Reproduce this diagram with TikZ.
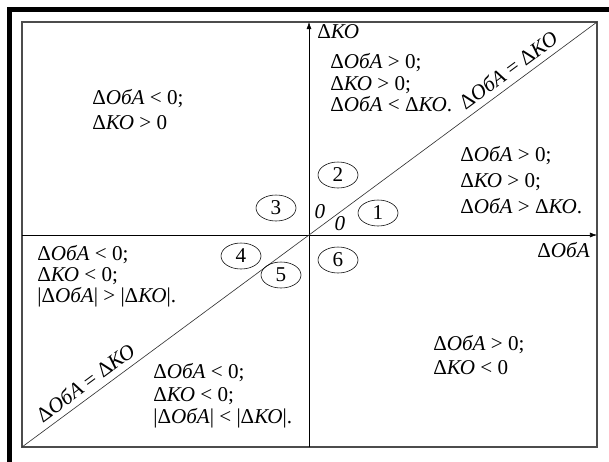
\documentclass[tikz,border=0pt]{standalone}
\usepackage{fontspec}
\setmainfont{Liberation Serif}
\usetikzlibrary{arrows.meta, shapes.geometric}
\newcommand{\dOA}{Δ\textit{ОбА}}
\newcommand{\dKO}{Δ\textit{КО}}
\tikzset{
	zonetext/.style={
			font=\fontsize{15}{#1}\selectfont,
			align=left,
			anchor=west,
			inner sep=0pt
		},
	zonetext/.default=15.5pt,
	zonenum/.style={
			ellipse,
			draw=black,
			thin,
			font=\fontsize{15}{16}\selectfont,
			minimum width=1.0cm,
			minimum height=0.65cm,
			inner sep=0pt
		},
	zeromark/.style={
			font=\fontsize{15}{16}\selectfont\itshape,
			inner sep=0pt
		},
	diaglabel/.style={
			sloped,
			above=1pt,
			font=\fontsize{15}{16}\selectfont
		},
	axisline/.style={
			thin,
			draw=black,
			-{Latex[length=5pt,width=3.5pt]}
		}
}
\begin{document}
\begin{tikzpicture}[x=0.025cm, y=-0.025cm]
\useasboundingbox (0,0) rectangle (609,461);
% frame
\draw[line width=0.125cm, line join=miter] (9.5,470) -- (9.5,9.5) -- (620,9.5);
\draw[line width=1pt, draw=black!70] (22,22) rectangle (597,447);

\coordinate (o) at (309,235);
\coordinate (xs) at (22,235);
\coordinate (xe) at (597,235);
\coordinate (ys) at (309,447);
\coordinate (ye) at (309,22);
\coordinate (bl) at (22,447);
\coordinate (tr) at (597,22);

\draw[axisline] (xs) -- (xe);
\draw[axisline] (ys) -- (ye);
\draw[draw=black!80, line width=0.45pt] (bl) -- node[diaglabel, pos=0.25] (eqlow) {\dOA{} = \dKO} (o)
  -- node[diaglabel, pos=0.72] (equp) {\dOA{} = \dKO} (tr);

\node[zonetext, anchor=west] (lbly) at (317,32) {\dKO};
\node[zonetext, anchor=east] (lblx) at (590,250) {\dOA};

\node[zonetext=17.8pt] (z3) at (92,110) {\dOA{} < 0;\\ \dKO{} > 0};
\node[zonetext=15.3pt] (z2) at (330,83) {\dOA{} > 0;\\ \dKO{} > 0;\\ \dOA{} < \dKO.};
\node[zonetext=18.5pt] (z1) at (460,180) {\dOA{} > 0;\\ \dKO{} > 0;\\ \dOA{} > \dKO.};
\node[zonetext=15pt] (z4) at (37,276) {\dOA{} < 0;\\ \dKO{} < 0;\\ |\dOA| > |\dKO|.};
\node[zonetext=16pt] (z5) at (153,396) {\dOA{} < 0;\\ \dKO{} < 0;\\ |\dOA| < |\dKO|.};
\node[zonetext=17pt] (z6) at (433,355) {\dOA{} > 0;\\ \dKO{} < 0};

\node[zonenum] (n1) at (378,213) {1};
\node[zonenum] (n2) at (338,175) {2};
\node[zonenum] (n3) at (276,208) {3};
\node[zonenum] (n4) at (241,256) {4};
\node[zonenum] (n5) at (281,275) {5};
\node[zonenum] (n6) at (338,260) {6};

\node[zeromark] (zA) at (320,212) {0};
\node[zeromark] (zB) at (340,224) {0};
\end{tikzpicture}
\end{document}
